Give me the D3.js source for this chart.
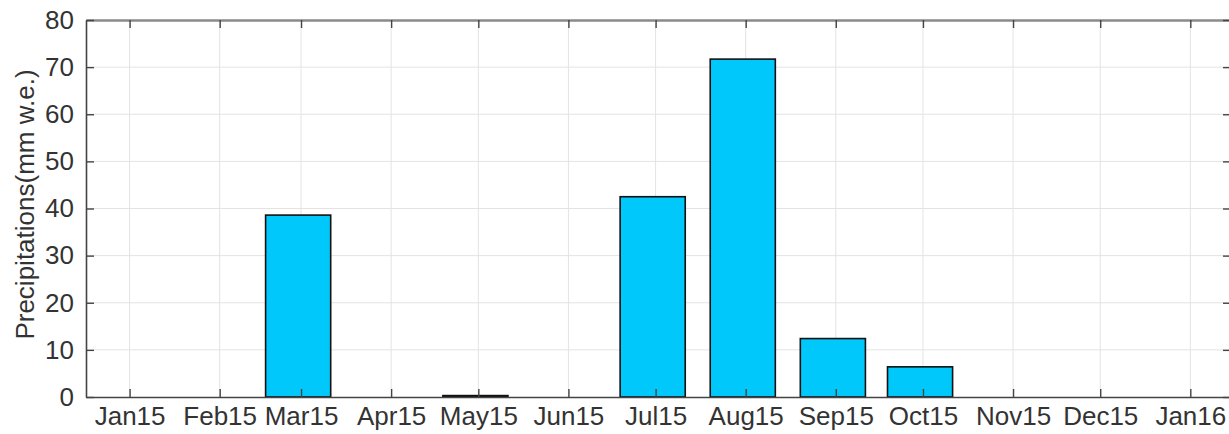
<!DOCTYPE html>
<html>
<head>
<meta charset="utf-8">
<script src="https://cdn.jsdelivr.net/npm/d3@7"></script>
<style>
  html, body { margin: 0; padding: 0; background: #fff; }
  svg { display: block; }
  text { font-family: "Liberation Sans", Arial, Helvetica, sans-serif; fill: #333; }
</style>
</head>
<body>
<svg id="chart" width="1229" height="434"></svg>
<script>
// Monthly precipitation, Jan 2015 – Jan 2016
const tickDates  = ["2015-01-15","2015-02-15","2015-03-15","2015-04-15","2015-05-15","2015-06-15",
                    "2015-07-15","2015-08-15","2015-09-15","2015-10-15","2015-11-15","2015-12-15","2016-01-15"];
const tickLabels = ["Jan15","Feb15","Mar15","Apr15","May15","Jun15",
                    "Jul15","Aug15","Sep15","Oct15","Nov15","Dec15","Jan16"];
const barDates   = ["2015-01-14","2015-02-14","2015-03-14","2015-04-14","2015-05-14","2015-06-14",
                    "2015-07-14","2015-08-14","2015-09-14","2015-10-14","2015-11-14","2015-12-14","2016-01-14"];
const precip     = [0, 0, 38.6, 0, 0.3, 0, 42.5, 71.7, 12.4, 6.4, 0, 0, 0];
const yTicks     = [0, 10, 20, 30, 40, 50, 60, 70, 80];
const yTitle     = "Precipitations(mm w.e.)";

const parse = d3.utcParse("%Y-%m-%d");
const ticks = tickDates.map(parse);
const bars = barDates.map((d, i) => ({ date: parse(d), value: precip[i] }));

const plotL = 86, plotR = 1231, plotT = 20, plotB = 397;
const svg = d3.select("#chart");

const x = d3.scaleUtc()
  .domain([parse("2014-12-31"), parse("2016-01-29")])
  .range([plotL, plotR]);
const y = d3.scaleLinear().domain([0, 80]).range([plotB, plotT]);

// bar width: 0.8 of the shortest month spacing (28 days)
const dayPx = x(parse("2015-01-02")) - x(parse("2015-01-01"));
const barW = 0.8 * 28 * dayPx;

// grid
const grid = svg.append("g").attr("stroke", "#e3e3e3").attr("stroke-width", 1);
grid.selectAll("line.v").data(ticks).join("line")
  .attr("class", "v")
  .attr("x1", d => x(d)).attr("x2", d => x(d))
  .attr("y1", plotT).attr("y2", plotB);
grid.selectAll("line.h").data(yTicks.filter(v => v > 0 && v < 80)).join("line")
  .attr("class", "h")
  .attr("x1", plotL).attr("x2", plotR)
  .attr("y1", d => y(d)).attr("y2", d => y(d));

// bars
svg.append("g").selectAll("rect").data(bars.filter(d => d.value > 0)).join("rect")
  .attr("x", d => x(d.date) - barW / 2)
  .attr("width", barW)
  .attr("y", d => y(d.value))
  .attr("height", d => y(0) - y(d.value))
  .attr("fill", "#00c8fb")
  .attr("stroke", "#111")
  .attr("stroke-width", 1.6);

// axes
const fmt = (d, i) => tickLabels[i];
const xAxis = svg.append("g").attr("transform", `translate(0,${plotB})`)
  .call(d3.axisBottom(x).tickValues(ticks).tickFormat(fmt).tickSizeInner(-8).tickSizeOuter(0).tickPadding(10));
const xTop = svg.append("g").attr("transform", `translate(0,${plotT})`)
  .call(d3.axisTop(x).tickValues(ticks).tickFormat("").tickSizeInner(-8).tickSizeOuter(0));
const yAxis = svg.append("g").attr("transform", `translate(${plotL},0)`)
  .call(d3.axisLeft(y).tickValues(yTicks).tickSizeInner(-8).tickSizeOuter(0).tickPadding(12));
const yRight = svg.append("g").attr("transform", `translate(${plotR},0)`)
  .call(d3.axisRight(y).tickValues(yTicks).tickFormat("").tickSizeInner(-8).tickSizeOuter(0));

[xAxis, xTop, yAxis, yRight].forEach(g => {
  g.select(".domain").attr("stroke", "#444").attr("stroke-width", 1.6);
  g.selectAll(".tick line").attr("stroke", "#444").attr("stroke-width", 1.4);
  g.selectAll(".tick text").attr("font-size", 26).attr("fill", "#333")
    .attr("font-family", "Liberation Sans, Arial, sans-serif");
});
xTop.select(".domain").attr("stroke", "#8a8a8a").attr("stroke-width", 2.5);

// y axis title
svg.append("text")
  .attr("transform", `translate(34,${(plotT + plotB) / 2 - 4}) rotate(-90)`)
  .attr("text-anchor", "middle")
  .attr("font-size", 26)
  .text(yTitle);
</script>
</body>
</html>
